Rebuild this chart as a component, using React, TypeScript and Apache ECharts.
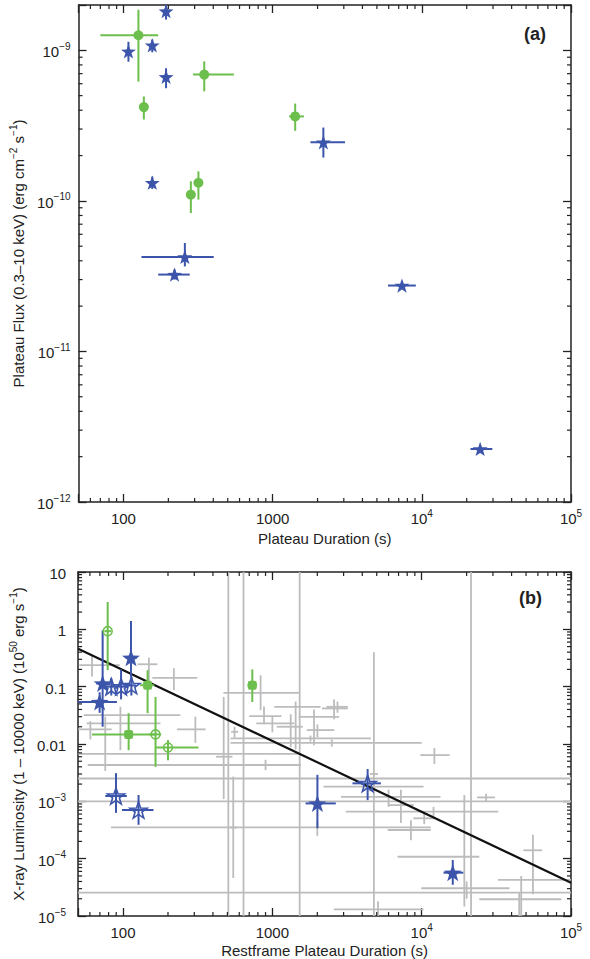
import React, { useEffect, useRef } from "react";
import * as echarts from "echarts";

// ---------- tick labels ("^" marks a superscript) ----------
const xTickExps = [2, 3, 4, 5];
const xTickLabels = ["100", "1000", "10^4", "10^5"];
const topYTickExps = [-12, -11, -10, -9];
const topYTickLabels = ["10^−12", "10^−11", "10^−10", "10^−9"];
const botYTickExps = [-5, -4, -3, -2, -1, 0, 1];
const botYTickLabels = ["10^−5", "10^−4", "10^−3", "0.01", "0.1", "1", "10"];

// ---------- panel (a) data: [x, y, xlo, xhi, ylo, yhi] ----------
const topBlue = [
  [193, 1.82e-9, 185, 200, 1.6e-9, 2.1e-9],
  [108, 0.985e-9, 104, 112, 8.4e-10, 1.14e-9],
  [156, 1.08e-9, 148, 165, 0.97e-9, 1.18e-9],
  [193, 6.66e-10, 186, 200, 5.6e-10, 7.6e-10],
  [156, 1.32e-10, 150, 162, 1.2e-10, 1.45e-10],
  [258, 4.24e-11, 132, 403, 3.67e-11, 5.25e-11],
  [220, 3.24e-11, 171, 278, 3.0e-11, 3.5e-11],
  [2188, 2.45e-10, 1792, 3055, 1.94e-10, 3.07e-10],
  [7362, 2.74e-11, 5930, 9120, 2.6e-11, 2.9e-11],
  [24600, 2.25e-12, 21200, 29700, 2.15e-12, 2.35e-12],
];
const topGreen = [
  [126, 1.26e-9, 70, 171, 6.2e-10, 1.86e-9],
  [137, 4.2e-10, 137, 137, 3.47e-10, 4.94e-10],
  [348, 6.9e-10, 293, 550, 5.34e-10, 8.45e-10],
  [318, 1.32e-10, 318, 318, 1.02e-10, 1.57e-10],
  [283, 1.1e-10, 283, 283, 8.3e-11, 1.35e-10],
  [1416, 3.64e-10, 1290, 1620, 2.92e-10, 4.43e-10],
];

// ---------- panel (b) data: [x, y, xlo, xhi, ylo, yhi] ----------
const botBlueFilled = [
  [113, 0.32, 104, 124, 0.148, 1.4],
  [73, 0.114, 66, 80, 0.02, 0.96],
  [69.7, 0.054, 50, 91, 0.035, 0.08],
  [2003, 9.2e-4, 1670, 2660, 3.4e-4, 2.9e-3],
  [16150, 5.7e-5, 14000, 19000, 3.5e-5, 9.5e-5],
];
const botBlueOpen = [
  [83.4, 0.1, 77, 92, 0.07, 0.14],
  [97, 0.1, 90, 105, 0.06, 0.2],
  [113.7, 0.105, 106, 122, 0.07, 0.15],
  [89.7, 1.24e-3, 76, 106, 6.3e-4, 3.1e-3],
  [127, 7.05e-4, 98.4, 160, 3.9e-4, 1.29e-3],
  [4345, 2.06e-3, 3440, 5330, 1.05e-3, 3.66e-3],
];
const botGreenFilled = [
  [146, 0.106, 130, 162, 0.0345, 0.194],
  [109, 0.0147, 62, 165, 0.0078, 0.0345],
  [734, 0.106, 680, 790, 0.054, 0.2],
];
const botGreenOpen = [
  [78.9, 0.93, 75, 83, 0.194, 3.0],
  [165, 0.0147, 150, 180, 4e-3, 0.066],
  [200, 0.0087, 165, 320, 5.2e-3, 0.0117],
];
const botGray = [
  [62, 0.237, 51, 95, 0.15, 0.35],
  [149, 0.246, 125, 170, 0.09, 0.32],
  [219, 0.142, 157, 314, 0.087, 0.21],
  [96, 0.0318, 54.5, 242, 0.0078, 0.0445],
  [76, 0.0229, 57, 178, 0.0034, 0.03],
  [60.4, 0.018, 50, 84, 0.012, 0.025],
  [305, 0.018, 230, 357, 0.0105, 0.03],
  [472, 0.006, 420, 540, 0.0011, 0.066],
  [558, 0.0163, 530, 590, 0.013, 0.02],
  [879, 0.0306, 700, 1150, 0.022, 0.045],
  [1000, 0.0229, 780, 1400, 0.016, 0.03],
  [1327, 0.02, 1070, 1600, 0.0088, 0.033],
  [1432, 0.0445, 1030, 2100, 0.008, 0.055],
  [1901, 0.0298, 1500, 2800, 0.0095, 0.04],
  [2590, 0.0417, 2150, 3200, 0.027, 0.06],
  [2003, 0.0175, 1700, 2600, 0.013, 0.022],
  [12160, 0.0064, 9800, 15400, 0.0045, 0.0085],
  [27000, 1.17e-3, 23500, 31000, 1e-3, 1.35e-3],
  [55600, 1.4e-4, 48000, 64000, 2.4e-5, 2.6e-4],
  [19300, 1.08e-4, 6900, 24300, 1.46e-5, 1.29e-3],
  [46400, 4.26e-5, 32400, 100000, 1e-6, 5e-5],
  [8470, 3.16e-4, 5920, 11500, 2.1e-4, 4.7e-4],
  [10400, 5.06e-4, 8800, 12400, 4e-4, 6e-4],
  [7260, 8.6e-4, 6030, 8870, 4.2e-4, 1.6e-3],
  [4786, 3e-3, 4500, 5100, 1e-6, 0.4],
  [641, 1e-3, 1, 1e7, 1e-7, 100],
  [1524, 2.5e-3, 1, 1e7, 1e-7, 100],
  [21400, 2.56e-5, 1, 1e7, 1e-7, 100],
  [507, 0.0067, 50, 1550, 1e-7, 100],
  [547, 3.5e-4, 520, 580, 4.6e-5, 2.7e-3],
  [900, 4.3e-3, 58, 1550, 3.5e-3, 5.3e-3],
  [834, 0.078, 470, 1524, 0.039, 0.158],
  [2000, 3.5e-4, 83, 11500, 2.5e-4, 4.5e-4],
  [12000, 6.6e-4, 3100, 32600, 5e-4, 8e-4],
  [6000, 1.2e-3, 2880, 13370, 8e-4, 1.6e-3],
  [4500, 1.8e-3, 2200, 10300, 1.5e-3, 2.2e-3],
  [20000, 3.05e-5, 9930, 38700, 2e-5, 4e-5],
  [45000, 1.96e-5, 24300, 86300, 1e-6, 2.5e-5],
  [5100, 1.31e-5, 2580, 10300, 1e-6, 1.8e-5],
  [1800, 0.0125, 525, 4570, 0.011, 0.014],
  [2500, 0.0105, 525, 10000, 0.009, 0.012],
  [2730, 0.0445, 2300, 3200, 0.035, 0.055],
];
const fitLine = [
  [50, 0.46],
  [100000, 3.8e-5],
];

// ---------- styles ----------
const FONT = "'Liberation Sans', Arial, sans-serif";
const BLUE = "#3c55ab";
const GREEN = "#6cbf4c";
const GRAY = "#bcbcbc";
const AXIS = "#222222";
const STAR =
  "path://M0,-10 L2.35,-3.24 L9.51,-3.09 L3.8,1.24 L5.88,8.09 L0,4 L-5.88,8.09 L-3.8,1.24 L-9.51,-3.09 L-2.35,-3.24 Z";

function richText(fs: number, sfs: number) {
  return {
    b: { fontSize: fs, lineHeight: fs + 3, color: AXIS, fontFamily: FONT, verticalAlign: "bottom" },
    s: { fontSize: sfs, lineHeight: sfs, color: AXIS, fontFamily: FONT, verticalAlign: "top" },
  };
}
// "10^−9" -> rich tokens
function toRich(t: string) {
  const i = t.indexOf("^");
  if (i < 0) return "{b|" + t + "}";
  return "{b|" + t.slice(0, i) + "}{s|" + t.slice(i + 1) + "}";
}
// name with superscripts written as [..]
function nameRich(t: string) {
  return t
    .split(/(\[[^\]]*\])/)
    .filter((p) => p.length)
    .map((p) => (p[0] === "[" ? "{s|" + p.slice(1, -1) + "}" : "{b|" + p + "}"))
    .join("");
}

function labelFor(exps: number[], labels: string[]) {
  return (v: number) => {
    const e = Math.log10(v);
    const r = Math.round(e);
    if (Math.abs(e - r) > 1e-6) return "";
    const i = exps.indexOf(r);
    return i >= 0 ? toRich(labels[i]) : "";
  };
}

function mkX(grid: number, pos: string, showLabel: boolean, name?: string, gap?: number) {
  return {
    type: "log",
    gridIndex: grid,
    position: pos,
    min: 50,
    max: 100000,
    axisLine: { show: true, onZero: false, lineStyle: { color: AXIS, width: 1.5 } },
    axisTick: { show: true, inside: true, length: 8, lineStyle: { color: AXIS, width: 1.3 } },
    axisLabel: {
      show: showLabel,
      margin: 6,
      fontSize: 15,
      color: AXIS,
      fontFamily: FONT,
      formatter: labelFor(xTickExps, xTickLabels),
      rich: richText(15, 10),
    },
    splitLine: { show: false },
    name: name ? nameRich(name) : "",
    nameLocation: "middle",
    nameGap: gap || 0,
    nameTextStyle: { fontSize: 15, color: AXIS, fontFamily: FONT, rich: richText(15, 10) },
  };
}

function mkY(grid: number, pos: string, showLabel: boolean, min: number, max: number, exps: number[], labels: string[], name?: string, gap?: number, margin?: number) {
  return {
    type: "log",
    gridIndex: grid,
    position: pos,
    min,
    max,
    axisLine: { show: true, onZero: false, lineStyle: { color: AXIS, width: 1.5 } },
    axisTick: { show: true, inside: true, length: 8, lineStyle: { color: AXIS, width: 1.3 } },
    axisLabel: {
      show: showLabel,
      margin: margin || 8,
      fontSize: 15,
      color: AXIS,
      fontFamily: FONT,
      formatter: labelFor(exps, labels),
      rich: richText(15, 10),
    },
    splitLine: { show: false },
    name: name ? nameRich(name) : "",
    nameLocation: "middle",
    nameGap: gap || 0,
    nameTextStyle: { fontSize: 15, color: AXIS, fontFamily: FONT, rich: richText(15, 10) },
  };
}

function minorValues(d0: number, d1: number, lo: number, hi: number) {
  const out: number[] = [];
  for (let d = d0; d <= d1; d++) {
    for (let m = 2; m <= 9; m++) {
      const v = m * Math.pow(10, d);
      if (v > lo * 1.0001 && v < hi * 0.9999) out.push(v);
    }
  }
  return out;
}

function minorTickSeries(xi: number, yi: number, vals: number[], other: number, isX: boolean) {
  return {
    type: "custom",
    xAxisIndex: xi,
    yAxisIndex: yi,
    silent: true,
    z: 10,
    data: vals.map((v) => (isX ? [v, other] : [other, v])),
    renderItem: (params: any, api: any) => {
      const cs = params.coordSys;
      const p = api.coord([api.value(0), api.value(1)]);
      const st = { stroke: AXIS, lineWidth: 1.2 };
      if (isX) {
        const x = p[0];
        return {
          type: "group",
          children: [
            { type: "line", shape: { x1: x, y1: cs.y + cs.height, x2: x, y2: cs.y + cs.height - 4 }, style: st },
            { type: "line", shape: { x1: x, y1: cs.y, x2: x, y2: cs.y + 4 }, style: st },
          ],
        };
      }
      const y = p[1];
      return {
        type: "group",
        children: [
          { type: "line", shape: { x1: cs.x, y1: y, x2: cs.x + 4, y2: y }, style: st },
          { type: "line", shape: { x1: cs.x + cs.width, y1: y, x2: cs.x + cs.width - 4, y2: y }, style: st },
        ],
      };
    },
  };
}

function errSeries(data: number[][], color: string, lw: number, xi: number, yi: number, z: number) {
  return {
    type: "custom",
    xAxisIndex: xi,
    yAxisIndex: yi,
    silent: true,
    z,
    dimensions: ["x", "y", "xlo", "xhi", "ylo", "yhi"],
    encode: { x: 0, y: 1 },
    data,
    renderItem: (params: any, api: any) => {
      const cs = params.coordSys;
      const cx = (v: number) => Math.min(cs.x + cs.width, Math.max(cs.x, v));
      const cy = (v: number) => Math.min(cs.y + cs.height, Math.max(cs.y, v));
      const x = api.value(0);
      const y = api.value(1);
      const hl = api.coord([api.value(2), y]);
      const hh = api.coord([api.value(3), y]);
      const vl = api.coord([x, api.value(4)]);
      const vh = api.coord([x, api.value(5)]);
      const st = { stroke: color, lineWidth: lw };
      return {
        type: "group",
        children: [
          { type: "line", shape: { x1: cx(hl[0]), y1: cy(hl[1]), x2: cx(hh[0]), y2: cy(hh[1]) }, style: st },
          { type: "line", shape: { x1: cx(vl[0]), y1: cy(vl[1]), x2: cx(vh[0]), y2: cy(vh[1]) }, style: st },
        ],
      };
    },
  };
}

function scatter(data: number[][], xi: number, yi: number, symbol: string, size: number, fill: string, border: string, bw: number, z: number) {
  return {
    type: "scatter",
    xAxisIndex: xi,
    yAxisIndex: yi,
    symbol,
    symbolSize: size,
    symbolKeepAspect: true,
    silent: true,
    z,
    data: data.map((d) => [d[0], d[1]]),
    itemStyle: { color: fill, borderColor: border, borderWidth: bw, opacity: 1 },
  };
}

export default function App() {
  const ref = useRef<HTMLDivElement>(null);
  useEffect(() => {
    if (!ref.current) return;
    const chart = echarts.init(ref.current, undefined, { renderer: "svg" });
    const option: any = {
      animation: false,
      backgroundColor: "#ffffff",
      textStyle: { fontFamily: FONT },
      grid: [
        { left: 74, top: 5, width: 497, height: 497 },
        { left: 76, top: 572, width: 495, height: 344 },
      ],
      xAxis: [
        mkX(0, "bottom", true, "Plateau Duration (s)", 26),
        mkX(0, "top", false),
        mkX(1, "bottom", true, "Restframe Plateau Duration (s)", 24),
        mkX(1, "top", false),
      ],
      yAxis: [
        mkY(0, "left", true, 1e-12, 2e-9, topYTickExps, topYTickLabels, "Plateau Flux (0.3–10 keV) (erg cm[−2] s[−1])", 47, 8),
        mkY(0, "right", false, 1e-12, 2e-9, topYTickExps, topYTickLabels),
        mkY(1, "left", true, 1e-5, 10, botYTickExps, botYTickLabels, "X-ray Luminosity (1 – 10000 keV) (10[50] erg s[−1])", 49, 12),
        mkY(1, "right", false, 1e-5, 10, botYTickExps, botYTickLabels),
      ],
      graphic: [
        { type: "text", left: 524, top: 25, style: { text: "(a)", font: "bold 18px " + FONT, fill: "#222" } },
        { type: "text", left: 519, top: 589, style: { text: "(b)", font: "bold 18px " + FONT, fill: "#222" } },
      ],
      series: [
        minorTickSeries(0, 0, minorValues(1, 4, 50, 100000), 1e-11, true),
        minorTickSeries(0, 0, minorValues(-12, -9, 1e-12, 2e-9), 100, false),
        minorTickSeries(2, 2, minorValues(1, 4, 50, 100000), 1e-3, true),
        minorTickSeries(2, 2, minorValues(-5, 0, 1e-5, 10), 100, false),
        // panel (a)
        errSeries(topGreen, GREEN, 2, 0, 0, 3),
        errSeries(topBlue, BLUE, 2, 0, 0, 3),
        scatter(topGreen, 0, 0, "circle", 10, GREEN, GREEN, 0, 4),
        scatter(topBlue, 0, 0, STAR, 15, BLUE, BLUE, 0, 4),
        // panel (b)
        errSeries(botGray, GRAY, 1.8, 2, 2, 1),
        {
          type: "line",
          xAxisIndex: 2,
          yAxisIndex: 2,
          data: fitLine,
          symbol: "none",
          silent: true,
          z: 2,
          lineStyle: { color: "#111", width: 2.2 },
        },
        errSeries(botGreenFilled, GREEN, 2, 2, 2, 3),
        errSeries(botGreenOpen, GREEN, 2, 2, 2, 3),
        errSeries(botBlueFilled, BLUE, 2, 2, 2, 3),
        errSeries(botBlueOpen, BLUE, 2, 2, 2, 3),
        scatter(botGreenFilled, 2, 2, "roundRect", 9, GREEN, GREEN, 0, 4),
        scatter(botGreenOpen, 2, 2, "circle", 9, "rgba(255,255,255,0)", GREEN, 1.5, 4),
        scatter(botBlueFilled, 2, 2, STAR, 18, BLUE, BLUE, 0, 4),
        scatter(botBlueOpen, 2, 2, STAR, 17, "rgba(255,255,255,0)", BLUE, 1.6, 4),
      ],
    };
    chart.setOption(option);
    return () => chart.dispose();
  }, []);
  return (
    <div
      ref={ref}
      style={{ position: "absolute", left: 0, top: 0, width: 590, height: 959, background: "#fff" }}
    />
  );
}
